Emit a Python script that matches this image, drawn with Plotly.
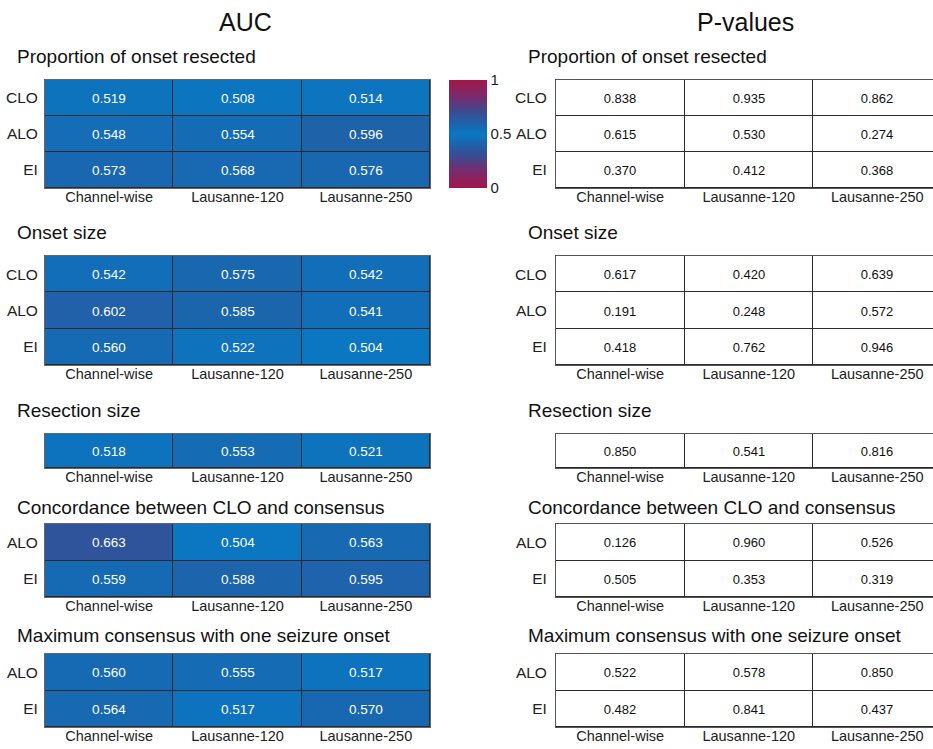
import plotly.graph_objects as go

W, H = 933, 749

methods = ["Channel-wise", "Lausanne-120", "Lausanne-250"]

sections = [
    "Proportion of onset resected",
    "Onset size",
    "Resection size",
    "Concordance between CLO and consensus",
    "Maximum consensus with one seizure onset",
]
section_rows = [
    ["CLO", "ALO", "EI"],
    ["CLO", "ALO", "EI"],
    [""],
    ["ALO", "EI"],
    ["ALO", "EI"],
]

auc_onset_resected = [[0.519, 0.508, 0.514], [0.548, 0.554, 0.596], [0.573, 0.568, 0.576]]
auc_onset_size = [[0.542, 0.575, 0.542], [0.602, 0.585, 0.541], [0.560, 0.522, 0.504]]
auc_resection_size = [[0.518, 0.553, 0.521]]
auc_concordance = [[0.663, 0.504, 0.563], [0.559, 0.588, 0.595]]
auc_max_consensus = [[0.560, 0.555, 0.517], [0.564, 0.517, 0.570]]

p_onset_resected = [[0.838, 0.935, 0.862], [0.615, 0.530, 0.274], [0.370, 0.412, 0.368]]
p_onset_size = [[0.617, 0.420, 0.639], [0.191, 0.248, 0.572], [0.418, 0.762, 0.946]]
p_resection_size = [[0.850, 0.541, 0.816]]
p_concordance = [[0.126, 0.960, 0.526], [0.505, 0.353, 0.319]]
p_max_consensus = [[0.522, 0.578, 0.850], [0.482, 0.841, 0.437]]

auc_tables = [auc_onset_resected, auc_onset_size, auc_resection_size, auc_concordance, auc_max_consensus]
p_tables = [p_onset_resected, p_onset_size, p_resection_size, p_concordance, p_max_consensus]

# pixel layout: (section title y, heatmap top, heatmap bottom)
section_px = [(56, 80, 188), (233, 256, 365), (410, 434, 468), (507, 524, 597), (635, 654, 727)]

FONT = "Liberation Sans, Arial, sans-serif"

diverging = [
    [0.0, "#a3174a"], [0.15, "#7a2a6a"], [0.3, "#3a4c92"], [0.42, "#1a66ae"],
    [0.5, "#0a77c2"],
    [0.58, "#1a66ae"], [0.7, "#3a4c92"], [0.85, "#7a2a6a"], [1.0, "#a3174a"],
]


def px_x(v):
    return v / W


def px_y(v):
    return 1 - v / H


fig = go.Figure()
layout = {}
annotations = []

left_dom = [px_x(45), px_x(430)]
right_dom = [px_x(556), 1.0]
right_range = [-0.5, 2.5 - (941.5 - 933) / 128.5]

idx = 0
for s, (title, rows) in enumerate(zip(sections, section_rows)):
    ty, top, bot = section_px[s]
    ydom = [px_y(bot), px_y(top)]
    for side in (0, 1):
        idx += 1
        xa = "x" if idx == 1 else f"x{idx}"
        ya = "y" if idx == 1 else f"y{idx}"
        xk = "xaxis" if idx == 1 else f"xaxis{idx}"
        yk = "yaxis" if idx == 1 else f"yaxis{idx}"
        z = auc_tables[s] if side == 0 else p_tables[s]
        if side == 0:
            fig.add_trace(go.Heatmap(
                z=z, x=methods, y=rows, xaxis=xa, yaxis=ya,
                zmin=0, zmax=1, colorscale=diverging,
                xgap=1, ygap=1,
                texttemplate="%{z:.3f}",
                textfont=dict(family=FONT, size=13.5, color="white"),
                hoverinfo="skip",
                showscale=(s == 0),
                colorbar=dict(
                    x=px_x(449), xanchor="left", y=px_y(80), yanchor="top",
                    thickness=38, thicknessmode="pixels",
                    len=108, lenmode="pixels",
                    outlinewidth=0, tickvals=[0, 0.5, 1], ticktext=["0", "0.5", "1"],
                    ticks="", tickfont=dict(family=FONT, size=15, color="#222"),
                    xpad=0, ypad=0,
                ),
            ))
        else:
            fig.add_trace(go.Heatmap(
                z=z, x=methods, y=rows, xaxis=xa, yaxis=ya,
                zmin=0, zmax=1, colorscale=[[0, "white"], [1, "white"]],
                xgap=1, ygap=1,
                texttemplate="%{z:.3f}",
                textfont=dict(family=FONT, size=13, color="#111"),
                hoverinfo="skip", showscale=False,
            ))
        layout[xk] = dict(
            domain=left_dom if side == 0 else right_dom,
            anchor=ya, range=[-0.5, 2.5] if side == 0 else right_range,
            showgrid=False, zeroline=False, ticks="", fixedrange=True,
            showline=True, linecolor="#666" if side == 0 else "#555",
            linewidth=1, mirror=True, ticklabelstandoff=-4,
            tickfont=dict(family=FONT, size=14.5, color="#222"),
        )
        layout[yk] = dict(
            domain=ydom, anchor=xa, autorange="reversed",
            showgrid=False, zeroline=False, ticks="outside", ticklen=3 if side == 0 else 5,
            tickcolor="rgba(0,0,0,0)", fixedrange=True,
            showline=True, linecolor="#666" if side == 0 else "#555",
            linewidth=1, mirror=(side == 0),
            tickfont=dict(family=FONT, size=15.5, color="#222"),
        )
        annotations.append(dict(
            text=title, x=px_x(15 if side == 0 else 526), y=px_y(ty),
            xref="paper", yref="paper", xanchor="left", yanchor="middle",
            showarrow=False, font=dict(family=FONT, size=19, color="#111"),
        ))

annotations.append(dict(text="AUC", x=px_x(245), y=px_y(22), xref="paper", yref="paper",
                        xanchor="center", yanchor="middle",
                        showarrow=False, font=dict(family=FONT, size=25, color="#111")))
annotations.append(dict(text="P-values", x=px_x(745), y=px_y(22), xref="paper", yref="paper",
                        xanchor="center", yanchor="middle",
                        showarrow=False, font=dict(family=FONT, size=25, color="#111")))

fig.update_layout(
    width=W, height=H, margin=dict(l=0, r=0, t=0, b=0),
    paper_bgcolor="white", plot_bgcolor="#2b2b2b",
    annotations=annotations, **layout,
)

fig.write_html("out.html", config={"displayModeBar": False})
